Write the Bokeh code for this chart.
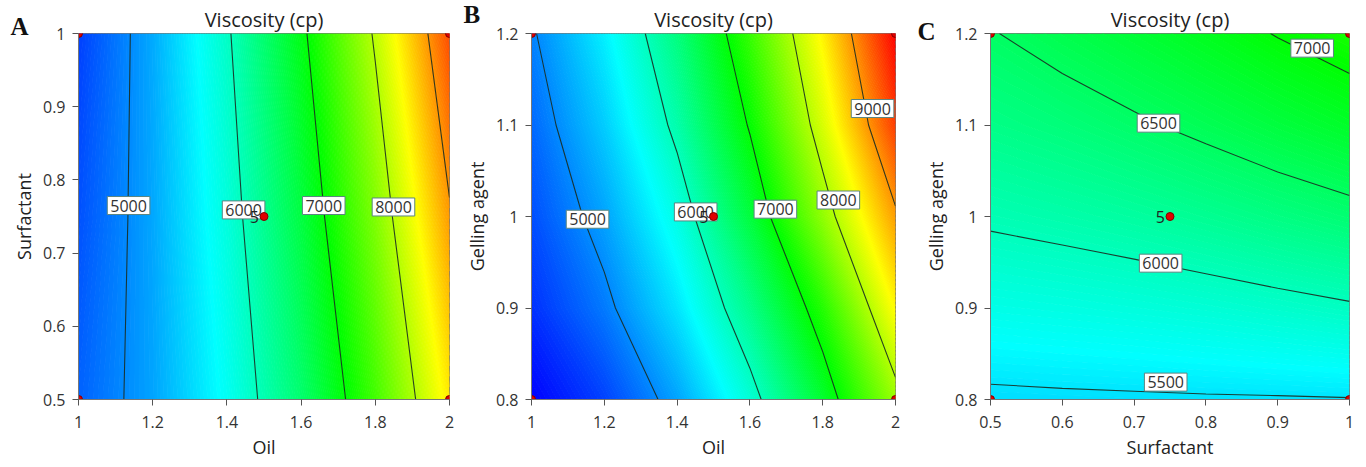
import numpy as np
from bokeh.plotting import figure
from bokeh.layouts import row
from bokeh.models import FixedTicker, ColumnDataSource, Range1d, NumeralTickFormatter, Title
from bokeh.core.properties import value
from bokeh.embed import file_html
from bokeh.resources import INLINE

# ---------------- data ----------------
# Panel A: Oil (x) vs Surfactant (y)
a_oil = [1.0, 1.2, 1.4, 1.6, 1.8, 2.0]
a_surf = [0.5, 0.75, 1.0]
a_visc = [
    [4780, 5140, 5695, 6430, 7380, 8520],
    [4685, 5158, 5821, 6670, 7715, 8955],
    [4590, 5177, 5948, 6910, 8052, 9390],
]
a_levels = [5000, 6000, 7000, 8000, 9000]
a_lab_text = ["5000", "6000", "7000", "8000"]
a_lab_x = [1.135, 1.445, 1.661, 1.849]
a_lab_y = [0.765, 0.759, 0.765, 0.763]
a_pts_x = [1.0, 2.0, 1.0, 2.0, 1.5]
a_pts_y = [0.5, 0.5, 1.0, 1.0, 0.75]

# Panel B: Oil (x) vs Gelling agent (y)
b_oil = [1.0, 1.2, 1.4, 1.6, 1.8, 2.0]
b_gel = [0.8, 0.9, 1.0, 1.1, 1.2]
b_visc = [
    [4252, 4604, 5140, 5859, 6766, 7860],
    [4509, 4911, 5493, 6271, 7213, 8440],
    [4673, 5138, 5783, 6688, 7806, 8940],
    [4815, 5364, 6093, 7035, 8198, 9471],
    [4958, 5560, 6342, 7317, 8478, 9802],
]
b_levels = [5000, 6000, 7000, 8000, 9000]
b_lab_text = ["5000", "6000", "7000", "8000", "9000"]
b_lab_x = [1.154, 1.451, 1.670, 1.843, 1.937]
b_lab_y = [0.997, 1.005, 1.008, 1.018, 1.118]
b_pts_x = [1.0, 2.0, 1.0, 2.0, 1.5]
b_pts_y = [0.8, 0.8, 1.2, 1.2, 1.0]

# Panel C: Surfactant (x) vs Gelling agent (y)
c_surf = [0.5, 0.6, 0.7, 0.8, 0.9, 1.0]
c_gel = [0.8, 0.9, 1.0, 1.1, 1.2]
c_visc = [
    [5447, 5460, 5468, 5477, 5482, 5490],
    [5764, 5790, 5822, 5862, 5912, 5968],
    [6045, 6095, 6155, 6230, 6320, 6409],
    [6291, 6365, 6460, 6570, 6690, 6806],
    [6485, 6605, 6730, 6865, 7015, 7150],
]
c_levels = [5500, 6000, 6500, 7000]
c_lab_text = ["7000", "6500", "6000", "5500"]
c_lab_x = [0.948, 0.734, 0.737, 0.744]
c_lab_y = [1.184, 1.102, 0.949, 0.819]
c_pts_x = [0.5, 1.0, 0.5, 1.0, 0.75]
c_pts_y = [0.8, 0.8, 1.2, 1.2, 1.0]

oil_ticks = [1, 1.2, 1.4, 1.6, 1.8, 2]
surf_ticks = [0.5, 0.6, 0.7, 0.8, 0.9, 1]
gel_ticks = [0.8, 0.9, 1, 1.1, 1.2]
center_runs = "5"

# ---------------- colour scale ----------------
VMIN, VMAX = 4250.0, 9800.0
STOPS = [(0.0, (0, 0, 255)), (0.25, (0, 255, 255)), (0.5, (0, 255, 0)),
         (0.75, (255, 255, 0)), (1.0, (255, 0, 0))]


def cmap(v):
    f = min(max((v - VMIN) / (VMAX - VMIN), 0.0), 1.0)
    for (f0, c0), (f1, c1) in zip(STOPS[:-1], STOPS[1:]):
        if f <= f1:
            t = (f - f0) / (f1 - f0)
            c = [round(a + (b - a) * t) for a, b in zip(c0, c1)]
            return "#%02x%02x%02x" % tuple(c)
    return "#ff0000"


FONT = "Open Sans"
H = 466
TOP = 33
BOTTOM = 67


def panel(x, y, z, levels, lab_text, lab_x, lab_y, px, py,
          xticks, yticks, xlabel, ylabel, letter,
          left, fw, right, letter_off, letter_stand):
    p = figure(width=left + fw + right, height=H, output_backend="svg",
               toolbar_location=None,
               x_range=Range1d(min(x), max(x)), y_range=Range1d(min(y), max(y)),
               min_border_left=left, min_border_right=right,
               min_border_top=TOP, min_border_bottom=BOTTOM)
    zz = np.array(z, dtype=float)
    step = 25.0
    lo = np.floor(zz.min() / step) * step - step
    hi = np.ceil(zz.max() / step) * step + step
    fl = np.arange(lo, hi + step / 2, step)
    mids = (fl[:-1] + fl[1:]) / 2
    p.contour(x, y, zz, fl, fill_color=[cmap(m) for m in mids],
              line_color=[cmap(l) for l in fl], line_width=1.2)
    p.contour(x, y, zz, levels, line_color="#1a2c22", line_width=1.1, line_alpha=0.9)

    src = ColumnDataSource(dict(x=lab_x, y=lab_y, t=lab_text))
    p.text(x="x", y="y", text="t", source=src, text_font=value(FONT),
           text_font_size="16px", text_color="#333333", text_align="center",
           text_baseline="middle", background_fill_color="white",
           border_line_color="#5b8580", border_line_width=1, padding=3)

    p.text(x=[px[-1]], y=[py[-1]], text=[center_runs], x_offset=-5,
           text_font=value(FONT), text_font_size="16px", text_color="#222222",
           text_align="right", text_baseline="middle")
    p.scatter(px, py, size=8, fill_color="#e00000", line_color="#800000", line_width=1)

    for ax in (p.xaxis[0], p.yaxis[0]):
        ax.formatter = NumeralTickFormatter(format="0.[0]")
        ax.minor_tick_line_color = None
        ax.major_tick_in = 0
        ax.major_tick_out = 6
        ax.major_tick_line_color = "#555555"
        ax.axis_line_color = "#777777"
        ax.major_label_text_font = FONT
        ax.major_label_text_font_size = "16px"
        ax.major_label_text_color = "#333333"
        ax.axis_label_text_font = FONT
        ax.axis_label_text_font_size = "18px"
        ax.axis_label_text_font_style = "normal"
        ax.axis_label_text_color = "#222222"
    p.xaxis.ticker = FixedTicker(ticks=xticks)
    p.yaxis.ticker = FixedTicker(ticks=yticks)
    p.xaxis.axis_label = xlabel
    p.yaxis.axis_label = ylabel
    p.xaxis.major_label_standoff = 10
    p.xaxis.axis_label_standoff = 4
    p.yaxis.major_label_standoff = 7
    p.yaxis.axis_label_standoff = 4
    p.grid.visible = False
    p.outline_line_color = "#777777"
    p.background_fill_color = "white"

    p.title.text = ""
    p.add_layout(Title(text="Viscosity (cp)", align="center", text_font=FONT,
                       text_font_size="20px", text_font_style="normal",
                       text_color="#222222", standoff=2), "above")
    p.add_layout(Title(text=letter, align="left", offset=letter_off, standoff=letter_stand,
                       text_font="Liberation Serif", text_font_size="25px",
                       text_font_style="bold", text_color="#111111"), "above")
    return p


pa = panel(a_oil, a_surf, a_visc, a_levels, a_lab_text, a_lab_x, a_lab_y,
           a_pts_x, a_pts_y, oil_ticks, surf_ticks, "Oil", "Surfactant", "A",
           78, 371, 11, -68, -75)
pb = panel(b_oil, b_gel, b_visc, b_levels, b_lab_text, b_lab_x, b_lab_y,
           b_pts_x, b_pts_y, oil_ticks, gel_ticks, "Oil", "Gelling agent", "B",
           71, 364, 15, -68, -51)
pc = panel(c_surf, c_gel, c_visc, c_levels, c_lab_text, c_lab_x, c_lab_y,
           c_pts_x, c_pts_y, surf_ticks, gel_ticks, "Surfactant", "Gelling agent", "C",
           80, 359, 9, -73, -85)

layout = row(pa, pb, pc)
open("out.html", "w").write(file_html(layout, INLINE))
